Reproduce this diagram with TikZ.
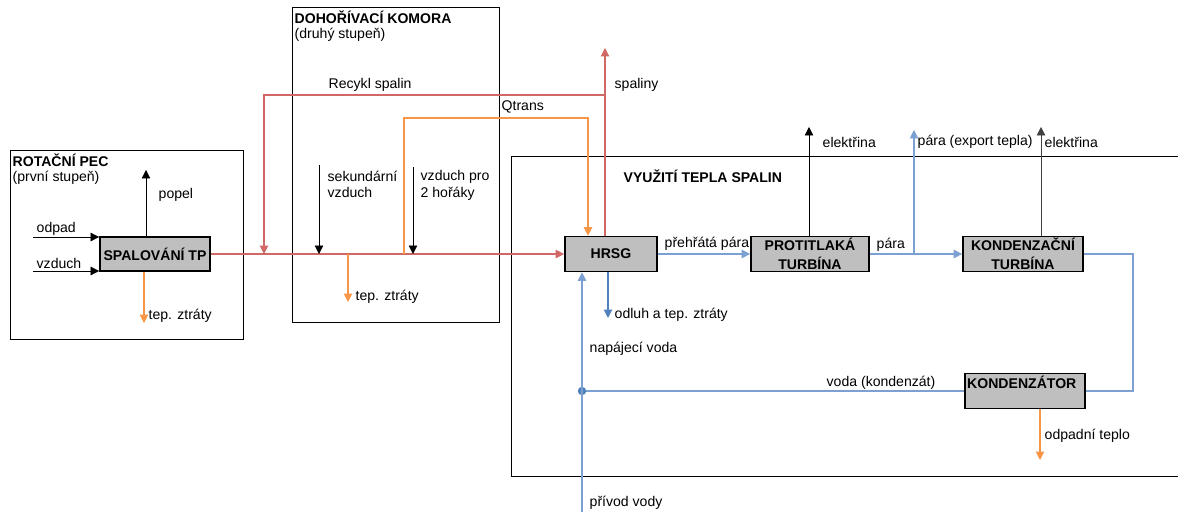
\documentclass[tikz,border=0pt]{standalone}
\usepackage{fontspec}
\setmainfont{Liberation Sans}
\usetikzlibrary{arrows.meta}

\definecolor{spaliny}{RGB}{208,105,102}
\definecolor{teplo}{RGB}{247,150,70}
\definecolor{voda}{RGB}{125,160,210}
\definecolor{vodadark}{RGB}{79,129,189}

\begin{document}
\begin{tikzpicture}[x=0.025cm, y=-0.025cm, font=\fontsize{10}{12}\selectfont,
    >={Triangle[width=6pt,length=6pt]},
    unitbox/.style={draw, line width=1.2pt, fill=black!25, align=center, inner sep=0pt,
        font=\fontsize{10}{13.5}\selectfont\bfseries},
    lbl/.style={anchor=west, inner sep=1pt, align=left},
    head/.style={anchor=west, inner sep=1pt, font=\fontsize{10}{12}\selectfont\bfseries},
    flue/.style={draw=spaliny, line width=0.75pt},
    heat/.style={draw=teplo, line width=0.75pt},
    steam/.style={draw=voda, line width=0.75pt}]

    \useasboundingbox (0,0) rectangle (1178,512);

    % stage frames
    \draw[line width=0.6pt] (10,150) rectangle (243,339);
    \draw[line width=0.6pt] (292,7) rectangle (499,322);
    \draw[line width=0.6pt] (1178,156) -| (511,476) -- (1178,476);

    \node[head] (pec) at (11,160) {ROTAČNÍ PEC};
    \node[lbl] (pec2) at (11,178) {(první stupeň)};
    \node[head] (kom) at (293,17) {DOHOŘÍVACÍ KOMORA};
    \node[lbl] (kom2) at (293,35) {(druhý stupeň)};
    \node[head] (vyu) at (622,176) {VYUŽITÍ TEPLA SPALIN};

    % units
    \node[unitbox, minimum width=2.75cm, minimum height=0.85cm] (spal) at (155,254) {SPALOVÁNÍ TP};
    \node[unitbox, minimum width=2.3cm, minimum height=0.875cm] (hrsg) at (611,254) {HRSG};
    \node[unitbox, minimum width=2.95cm, minimum height=0.875cm] (prot) at (810,254) {PROTITLAKÁ\\TURBÍNA};
    \node[unitbox, minimum width=3.0cm, minimum height=0.875cm] (kturb) at (1023,254) {KONDENZAČNÍ\\TURBÍNA};
    \node[unitbox, minimum width=3.0cm, minimum height=0.875cm] (kond) at (1025,391) {};
    \node[head, anchor=north west, inner sep=2pt] (kondt) at (kond.north west) {KONDENZÁTOR};

    % rotacni pec
    \coordinate (odp) at (33,237);
    \coordinate (vzd) at (33,271);
    \coordinate (pop) at (146,170);
    \coordinate (tz1) at (144,323);
    \draw[->] (odp) -- (odp -| spal.west);
    \draw[->] (vzd) -- (vzd -| spal.west);
    \draw[->] (pop |- spal.north) -- (pop);
    \draw[heat,->] (tz1 |- spal.south) -- (tz1);
    \node[lbl] (l-odp) at (35,229) {odpad};
    \node[lbl] (l-vzd) at (35,263) {vzduch};
    \node[lbl] (l-pop) at (157,195) {popel};
    \node[lbl] (l-tz1) at (147,316) {tep. ztráty};

    % spaliny
    \coordinate (sp) at (605,48);
    \coordinate (rectop) at (605,95);
    \coordinate (rec) at (264,254);
    \draw[flue,->] (spal.east) -- (hrsg.west);
    \draw[flue,->] (rectop) -| (rec);
    \draw[flue,->] (hrsg.north -| sp) -- (sp);
    \node[lbl] (l-rec) at (327,85) {Recykl spalin};
    \node[lbl] (l-sp) at (613,85) {spaliny};

    % dohorivaci komora
    \coordinate (qa) at (404,254);
    \coordinate (qb) at (588,118);
    \coordinate (sv) at (319,165);
    \coordinate (vh) at (413,167);
    \coordinate (tz2) at (348,302);
    \draw[heat,->] (qa) |- (qb) -- (qb |- hrsg.north);
    \draw[->] (sv) -- (sv |- spal.east);
    \draw[->] (vh) -- (vh |- spal.east);
    \draw[heat,->] (tz2 |- spal.east) -- (tz2);
    \node[lbl] (l-q) at (500,107) {Qtrans};
    \node[lbl, anchor=north west] (l-sv) at (326,169) {sekundární\\vzduch};
    \node[lbl, anchor=north west] (l-vh) at (419,169) {vzduch pro\\2 hořáky};
    \node[lbl] (l-tz2) at (354,297) {tep. ztráty};

    % vyuziti tepla
    \coordinate (el1) at (809,127);
    \coordinate (ex) at (914,130);
    \coordinate (el2) at (1041,127);
    \coordinate (kr) at (1133,391);
    \coordinate (dot) at (582,391);
    \coordinate (pv) at (582,512);
    \coordinate (od) at (608,318);
    \coordinate (ot) at (1040,460);
    \draw[steam,->] (hrsg.east) -- (prot.west);
    \draw[->] (el1 |- prot.north) -- (el1);
    \draw[steam,->] (prot.east) -- (kturb.west);
    \draw[steam,->] (ex |- prot.east) -- (ex);
    \draw[->, draw=black!75] (el2 |- kturb.north) -- (el2);
    \draw[steam] (kturb.east) -| (kr) -- (kond.east);
    \draw[steam] (kond.west) -- (dot);
    \fill[vodadark] (dot) circle[radius=3pt];
    \draw[steam,->] (pv) -- (pv |- hrsg.south);
    \draw[draw=vodadark, line width=0.75pt, ->] (od |- hrsg.south) -- (od);
    \draw[heat,->] (ot |- kond.south) -- (ot);
    \node[lbl] (l-el1) at (821,142) {elektřina};
    \node[lbl] (l-ex) at (916,142) {pára (export tepla)};
    \node[lbl] (l-el2) at (1043,142) {elektřina};
    \node[lbl] (l-pp) at (663,244) {přehřátá pára};
    \node[lbl] (l-para) at (875,245) {pára};
    \node[lbl] (l-od) at (613,315) {odluh a tep. ztráty};
    \node[lbl] (l-nv) at (588,349) {napájecí voda};
    \node[lbl] (l-vk) at (825,383) {voda (kondenzát)};
    \node[lbl] (l-ot) at (1043,436) {odpadní teplo};
    \node[lbl] (l-pv) at (588,503) {přívod vody};
\end{tikzpicture}
\end{document}
